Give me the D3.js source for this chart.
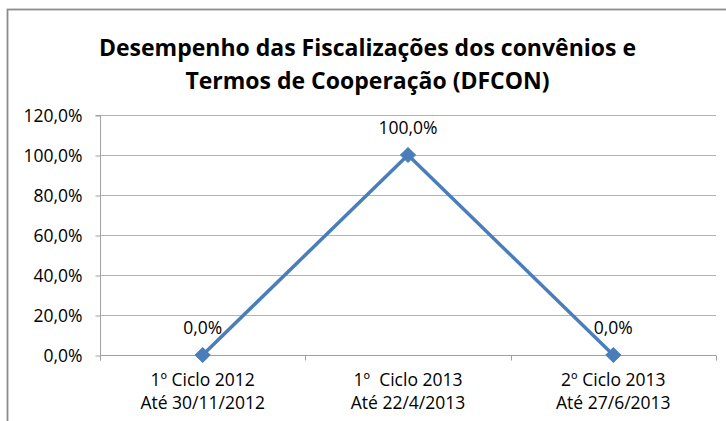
<!DOCTYPE html>
<html><head><meta charset="utf-8">
<script src="https://cdn.jsdelivr.net/npm/d3@7"></script>
<style>body{margin:0;background:#fff;}svg{display:block;}text{white-space:pre;}</style>
</head><body>
<script>
const categoriesLine1 = ["1º Ciclo 2012", "1º  Ciclo 2013", "2º Ciclo 2013"];
const categoriesLine2 = ["Até 30/11/2012", "Até 22/4/2013", "Até 27/6/2013"];
const values = [0, 1.0, 0];
const yTicks = [0, 0.2, 0.4, 0.6, 0.8, 1.0, 1.2];
const titleLines = ["Desempenho das Fiscalizações dos convênios e", "Termos de Cooperação (DFCON)"];

(function () {
const W = 726, H = 421;
const svg = d3.select("body").append("svg").attr("width", W).attr("height", H);
const font = "'Open Sans', 'Noto Sans', sans-serif";
const fs = 17.5;
const fmt = v => (v * 100).toFixed(1).replace(".", ",") + "%";

// chart frame
svg.append("rect").attr("x", 7.5).attr("y", 9.5).attr("width", 740).attr("height", 440)
  .attr("fill", "#fff").attr("stroke", "#8c8c8c").attr("stroke-width", 1.8);

const pl = 100, pr = 716, pt = 115, pb = 355;
const x = d3.scaleBand().domain(d3.range(categoriesLine1.length)).range([pl, pr]);
const y = d3.scaleLinear().domain([0, 1.2]).range([pb, pt]);

// title
const t = svg.append("text").attr("font-family", font).attr("font-weight", "bold")
  .attr("font-size", 23).attr("fill", "#000").attr("text-anchor", "middle");
titleLines.forEach((s, i) => t.append("tspan").attr("x", 367.5).attr("y", 56 + i * 33).text(s));

// gridlines
svg.append("g").selectAll("line").data(yTicks.filter(d => d > 0)).join("line")
  .attr("x1", pl).attr("x2", pr).attr("y1", d => Math.round(y(d)) + 0.5).attr("y2", d => Math.round(y(d)) + 0.5)
  .attr("stroke", "#b4b4b4").attr("stroke-width", 1);

// y axis
const yAxis = d3.axisLeft(y).tickValues(yTicks).tickFormat(fmt).tickSize(5).tickPadding(13);
const gy = svg.append("g").attr("transform", `translate(${pl + 0.5},0.5)`).call(yAxis);
gy.select(".domain").attr("stroke", "#a0a0a0").attr("d", `M-5,${pt}H0V${pb + 5}`);
gy.selectAll(".tick line").attr("stroke", "#a0a0a0");
gy.selectAll(".tick text").attr("font-family", font).attr("font-size", fs).attr("fill", "#000").attr("dy", "0.35em");

// x axis
const xAxis = d3.axisBottom(x).tickSize(0).tickFormat(() => "");
const gx = svg.append("g").attr("transform", `translate(0,${pb + 0.5})`).call(xAxis);
gx.select(".domain").attr("stroke", "#a0a0a0").attr("d", `M${pl},0H${pr}`);
const bounds = [pl, ...x.domain().map(i => x(i) + x.bandwidth())];
gx.selectAll(".btick").data(bounds).join("line").attr("class", "btick")
  .attr("x1", d => Math.round(d) + 0.5).attr("x2", d => Math.round(d) + 0.5).attr("y1", 0).attr("y2", 5)
  .attr("stroke", "#a0a0a0");
const cl = svg.append("g").attr("font-family", font).attr("font-size", fs).attr("text-anchor", "middle").attr("fill", "#000");
x.domain().forEach(i => {
  const c = x(i) + x.bandwidth() / 2;
  cl.append("text").attr("x", c).attr("y", 386).text(categoriesLine1[i]);
  cl.append("text").attr("x", c).attr("y", 409).text(categoriesLine2[i]);
});

// line
const cx = i => x(i) + x.bandwidth() / 2;
svg.append("path").datum(values)
  .attr("d", d3.line().x((d, i) => cx(i)).y(d => y(d)))
  .attr("fill", "none").attr("stroke", "#4a7ebb").attr("stroke-width", 3.5).attr("stroke-linejoin", "round");

// markers
svg.append("g").selectAll("path").data(values).join("path")
  .attr("d", d3.symbol(d3.symbolSquare, 110)())
  .attr("transform", (d, i) => `translate(${cx(i)},${y(d)}) rotate(45)`)
  .attr("fill", "#4a7ebb").attr("stroke", "#4a7ebb").attr("stroke-width", 1);

// data labels
svg.append("g").selectAll("text").data(values).join("text")
  .attr("x", (d, i) => cx(i)).attr("y", d => y(d) - 21)
  .attr("text-anchor", "middle").attr("font-family", font).attr("font-size", fs).attr("fill", "#000")
  .text(fmt);
})();
</script>
</body></html>
